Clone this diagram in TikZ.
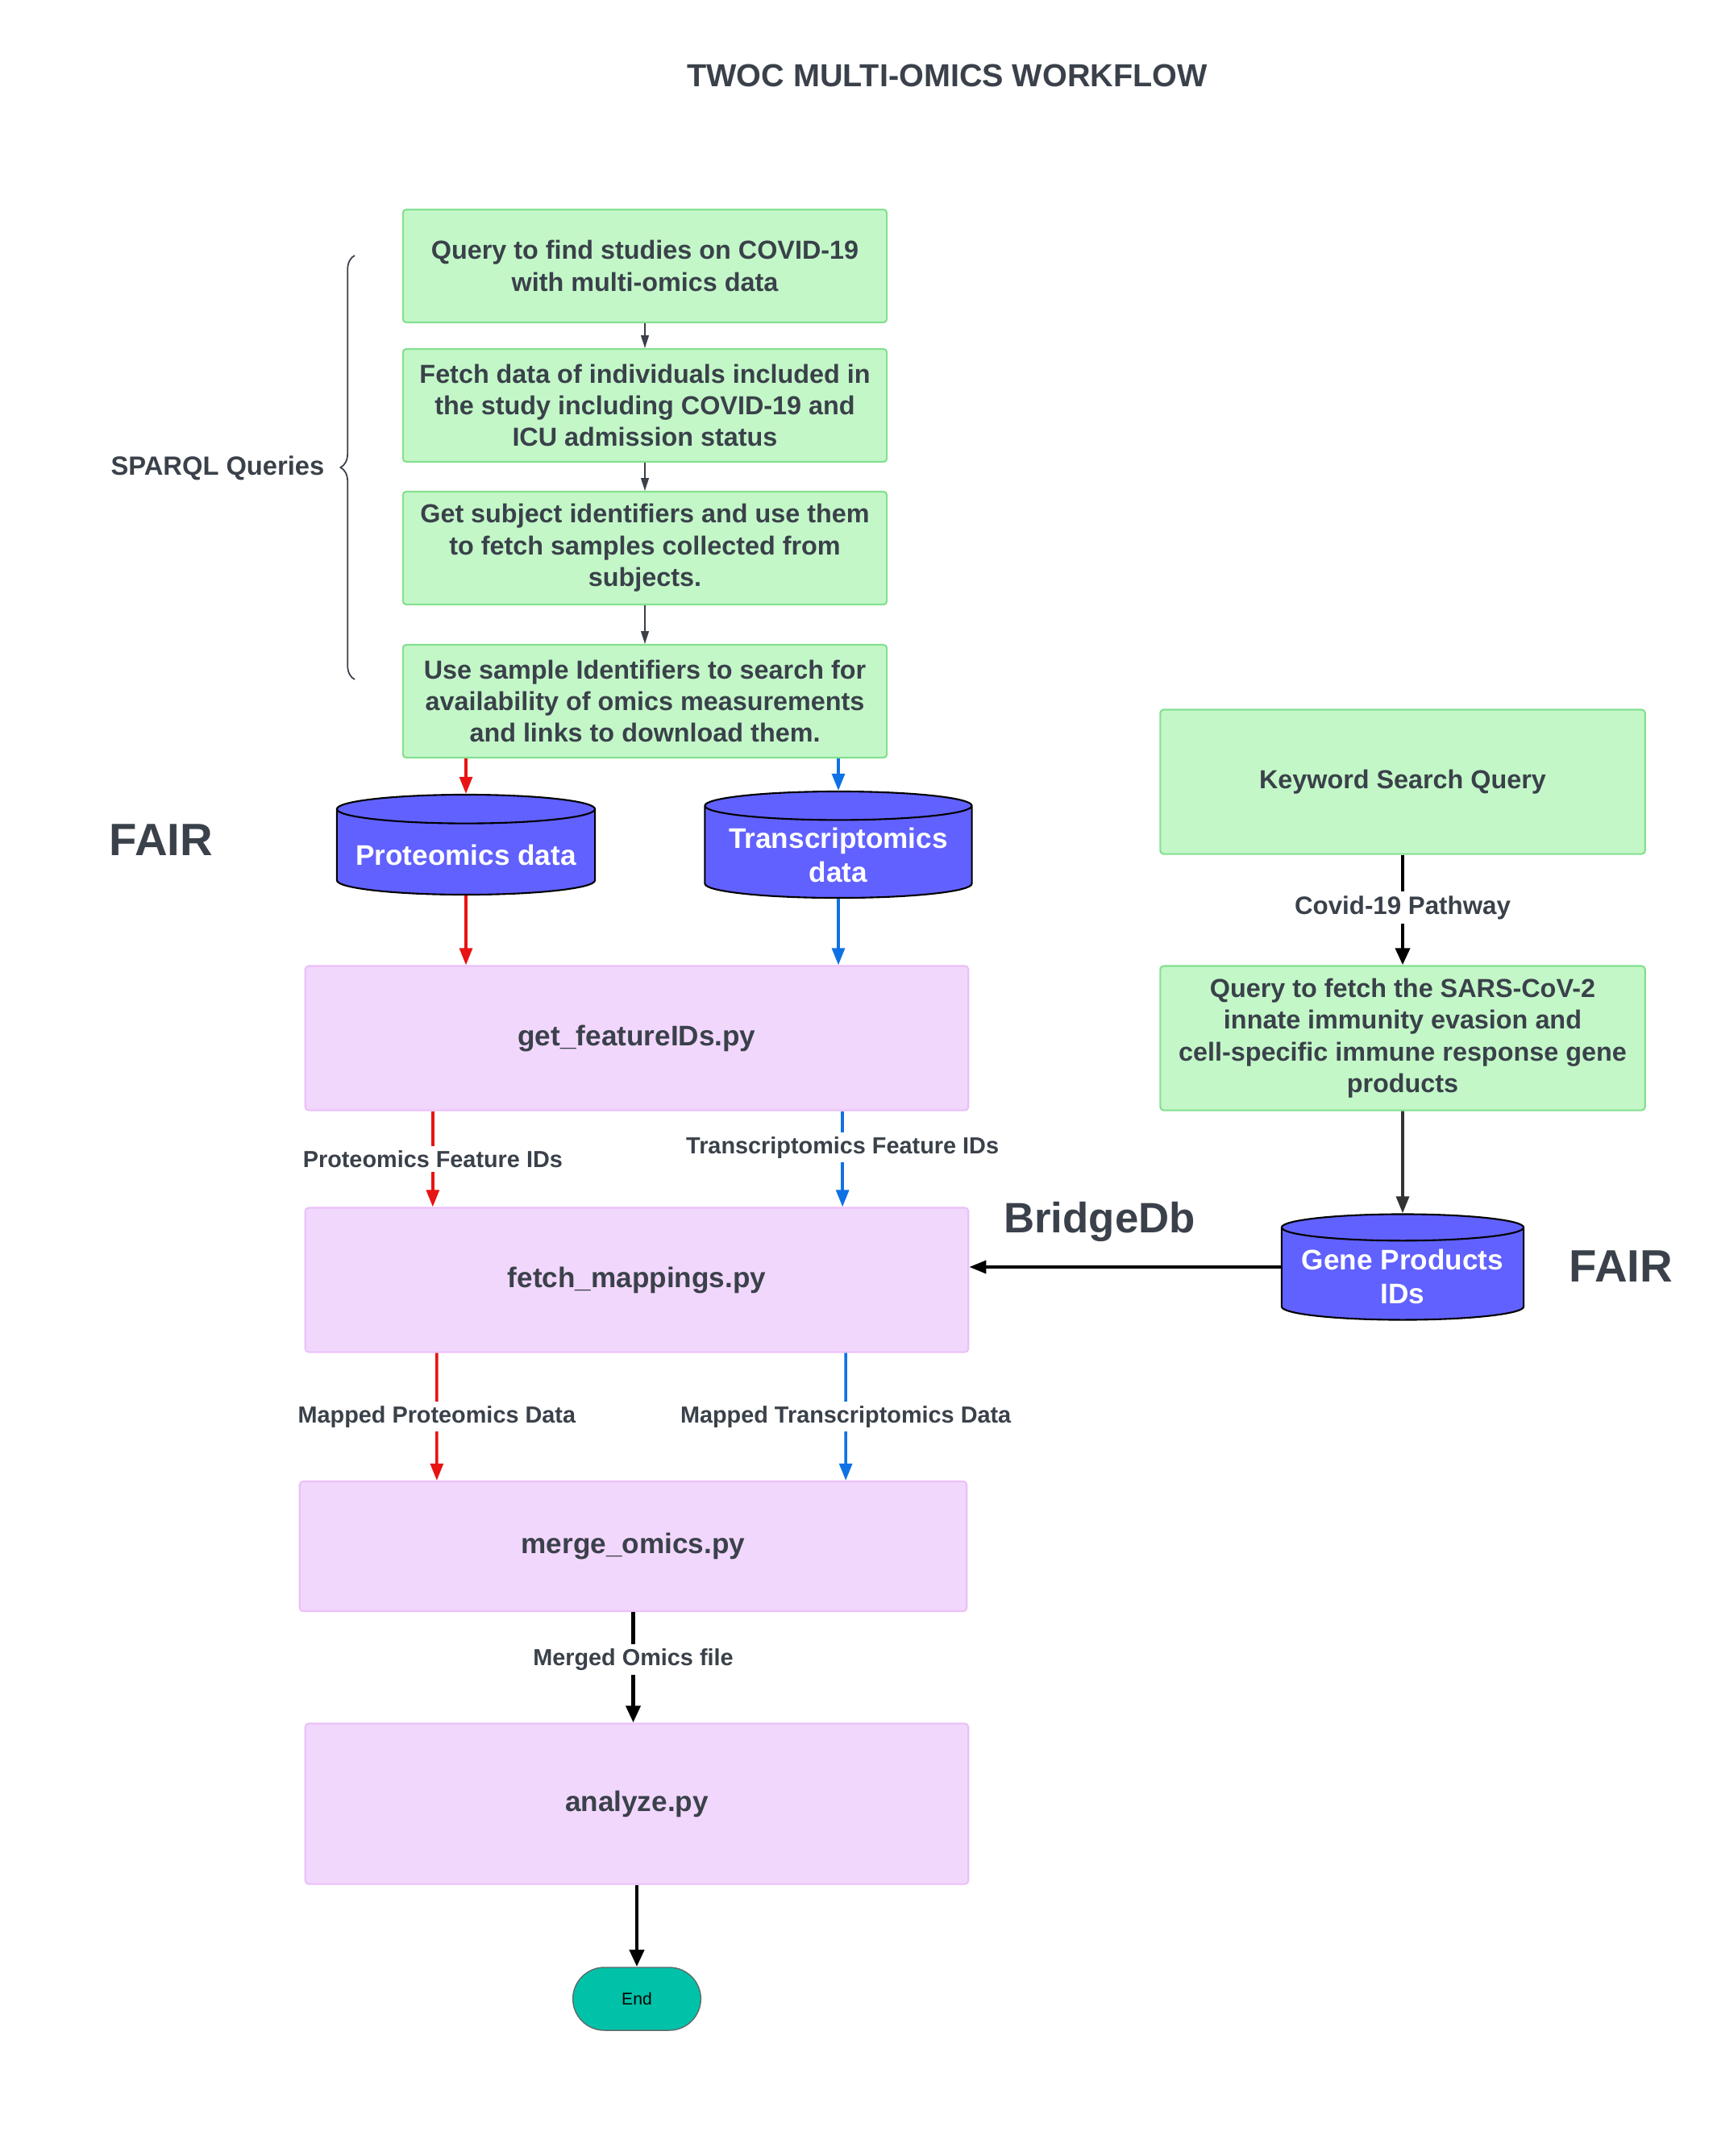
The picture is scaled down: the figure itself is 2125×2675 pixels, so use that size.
\documentclass[tikz,border=0pt]{standalone}
\usepackage{fontspec}
\setmainfont{Liberation Sans}
\usetikzlibrary{arrows.meta}
\usetikzlibrary{shapes.geometric}
\usetikzlibrary{shapes.misc}
\usetikzlibrary{decorations.pathreplacing}

\definecolor{textdark}{HTML}{3A414A}
\definecolor{qfill}{HTML}{C3F7C8}
\definecolor{qborder}{HTML}{84E08F}
\definecolor{pyfill}{HTML}{F2D7FD}
\definecolor{pyborder}{HTML}{EBC0F9}
\definecolor{dbfill}{HTML}{6161FF}
\definecolor{endfill}{HTML}{00C2A8}
\definecolor{endborder}{HTML}{5F6B6B}
\definecolor{arrred}{HTML}{E81313}
\definecolor{arrblue}{HTML}{1071E5}

\tikzset{
	qbox/.style={rectangle, rounded corners=1.2pt, draw=qborder, line width=0.6pt, fill=qfill, minimum width=6cm, minimum height=1.4cm, align=center, text=textdark, font=\bfseries\fontsize{9.2}{11.2}\selectfont},
	pybox/.style={rectangle, rounded corners=1.2pt, draw=pyborder, line width=0.6pt, fill=pyfill, minimum width=8.22cm, minimum height=1.79cm, align=center, text=textdark, font=\bfseries\fontsize{10}{12}\selectfont},
	dbase/.style={cylinder, shape border rotate=90, aspect=0.12, anchor=shape center, inner ysep=0pt, draw=black, line width=0.6pt, fill=dbfill, text=white, align=center, font=\bfseries\fontsize{10}{12}\selectfont},
	lbl/.style={fill=white, inner sep=1.5pt, text=textdark, font=\bfseries\fontsize{8.2}{10}\selectfont},
	bigtxt/.style={text=textdark, font=\bfseries\fontsize{16}{18}\selectfont},
	redarrow/.style={draw=arrred, line width=1pt, -{Triangle[length=6pt,width=4.5pt]}},
	bluearrow/.style={draw=arrblue, line width=1pt, -{Triangle[length=6pt,width=4.5pt]}},
	blkarrow/.style={draw=black, line width=1.4pt, -{Triangle[length=6pt,width=5pt]}},
	thinarrow/.style={draw=textdark, line width=0.4pt, -{Triangle[length=4.5pt,width=2.8pt]}}
}

\begin{document}
\begin{tikzpicture}[x=0.01cm, y=-0.01cm]
	\fill [white] (0,0) rectangle (2125,2675);
	\useasboundingbox (0,0) rectangle (2125,2675);

	\node [text=textdark, font=\bfseries\fontsize{11.25}{13}\selectfont] (title) at (1175,94) {TWOC MULTI-OMICS WORKFLOW};

	% SPARQL query chain
	\node [qbox] (q1) at (800,330) {Query to find studies on COVID-19\\with multi-omics data};
	\node [qbox] (q2) at (800,503) {Fetch data of individuals included in\\the study including COVID-19 and\\ICU admission status};
	\node [qbox] (q3) at (800,680) {Get subject identifiers and use them\\to fetch samples collected from\\subjects.};
	\node [qbox] (q4) at (800,870) {Use sample Identifiers to search for\\availability of omics measurements\\and links to download them.};
	\draw [thinarrow] (q1) -- (q2);
	\draw [thinarrow] (q2) -- (q3);
	\draw [thinarrow] (q3) -- (q4);

	\coordinate (brbot) at (440,843);
	\coordinate (brtop) at (440,317);
	\draw [decorate, decoration={brace, amplitude=5pt}, draw=textdark, line width=0.5pt] (brbot) -- (brtop);
	\node [text=textdark, font=\bfseries\fontsize{9.3}{11}\selectfont] (sparql) at (270,581) {SPARQL Queries};

	% omics data
	\node [bigtxt] (fairl) at (200,1042) {FAIR};
	\node [dbase, minimum width=3.2cm, minimum height=1.24cm] (prot) at (578,1048) {Proteomics data};
	\node [dbase, minimum width=3.31cm, minimum height=1.32cm] (trans) at (1040,1048) {Transcriptomics\\data};
	\draw [redarrow] (q4.south -| prot.north) -- (prot.north);
	\draw [bluearrow] (q4.south -| trans.north) -- (trans.north);

	% python steps
	\node [pybox] (getf) at (790,1288) {get\_featureIDs.py};
	\node [pybox] (fetchm) at (790,1588) {fetch\_mappings.py};
	\node [pybox, minimum width=8.27cm, minimum height=1.61cm] (merge) at (785.5,1918.5) {merge\_omics.py};
	\node [pybox, minimum height=1.99cm] (analyze) at (790,2238) {analyze.py};
	\node [rounded rectangle, fill=endfill, draw=endborder, line width=0.4pt, minimum width=1.82cm, minimum height=0.78cm, font=\fontsize{6}{7}\selectfont] (endn) at (790,2480) {End};

	\draw [redarrow] (prot.south) -- (prot.south |- getf.north);
	\draw [bluearrow] (trans.south) -- (trans.south |- getf.north);
	\draw [redarrow] ([xshift=-2.53cm]getf.south) -- node [lbl, pos=0.5] {Proteomics Feature IDs} ([xshift=-2.53cm]fetchm.north);
	\draw [bluearrow] ([xshift=2.55cm]getf.south) -- node [lbl, pos=0.38] {Transcriptomics Feature IDs} ([xshift=2.55cm]fetchm.north);
	\draw [redarrow] ([xshift=-2.48cm]fetchm.south) -- node [lbl] {Mapped Proteomics Data} ([xshift=-2.435cm]merge.north);
	\draw [bluearrow] ([xshift=2.59cm]fetchm.south) -- node [lbl] {Mapped Transcriptomics Data} ([xshift=2.635cm]merge.north);
	\draw [blkarrow] (merge.south) -- node [lbl, pos=0.43] {Merged Omics file} (merge.south |- analyze.north);
	\draw [blkarrow] (analyze.south) -- (endn.north);

	% pathway side
	\node [qbox, minimum width=6.01cm, minimum height=1.79cm] (kw) at (1740,970) {Keyword Search Query};
	\node [qbox, minimum width=6.01cm, minimum height=1.79cm] (qsars) at (1740,1288) {Query to fetch the SARS-CoV-2\\innate immunity evasion and\\cell-specific immune response gene\\products};
	\node [dbase, minimum width=3cm, minimum height=1.31cm] (genes) at (1740,1572) {Gene Products\\IDs};
	\node [bigtxt] (fairr) at (2011,1571) {FAIR};
	\node [bigtxt, font=\bfseries\fontsize{15}{18}\selectfont] (bridge) at (1364,1516) {BridgeDb};
	\draw [blkarrow] (kw) -- node [lbl, pos=0.48, font=\bfseries\fontsize{8.9}{10}\selectfont] {Covid-19 Pathway} (qsars);
	\draw [draw=black!80, line width=1.1pt, -{Triangle[length=6pt,width=4.5pt]}] (qsars) -- (genes.north);
	\draw [draw=black, line width=1.1pt, -{Triangle[length=6pt,width=4.5pt]}] (genes.west |- genes.shape center) -- (genes.shape center -| fetchm.east);
\end{tikzpicture}
\end{document}
